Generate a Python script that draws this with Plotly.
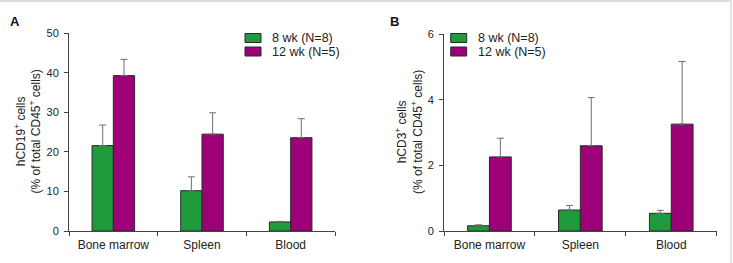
import plotly.graph_objects as go

categories = ["Bone marrow", "Spleen", "Blood"]
series_names = ["8 wk (N=8)", "12 wk (N=5)"]

a_8wk = [21.6, 10.2, 2.3]
a_8wk_err = [5.2, 3.5, 0.15]
a_12wk = [39.3, 24.5, 23.6]
a_12wk_err = [4.1, 5.4, 4.8]

b_8wk = [0.16, 0.64, 0.54]
b_8wk_err = [0.03, 0.14, 0.09]
b_12wk = [2.26, 2.6, 3.26]
b_12wk_err = [0.57, 1.47, 1.91]

a_ticks = [0, 10, 20, 30, 40, 50]
b_ticks = [0, 2, 4, 6]

GREEN = "#1f9a3c"
MAGENTA = "#9e0078"
FONT = "Liberation Sans, Arial, sans-serif"
W, H = 733, 263

def px(x):
    return x / W

def py(y):
    return 1 - y / H

fig = go.Figure()

def add_bars(xa, ya, vals, errs, color, name):
    fig.add_trace(go.Bar(
        x=categories, y=vals, name=name, xaxis=xa, yaxis=ya,
        marker=dict(color=color, line=dict(color="#2a2a2a", width=1)),
        error_y=dict(type="data", symmetric=False, array=errs,
                     arrayminus=[0] * len(errs), color="#6e6e6e",
                     thickness=1, width=3.5),
        showlegend=False,
    ))

add_bars("x", "y", a_8wk, a_8wk_err, GREEN, series_names[0])
add_bars("x", "y", a_12wk, a_12wk_err, MAGENTA, series_names[1])
add_bars("x2", "y2", b_8wk, b_8wk_err, GREEN, series_names[0])
add_bars("x2", "y2", b_12wk, b_12wk_err, MAGENTA, series_names[1])

axis_common = dict(showline=True, linecolor="#444", linewidth=1,
                   ticks="outside", ticklen=4, tickcolor="#444",
                   showgrid=False, zeroline=False, automargin=False)

fig.update_layout(
    template="none",
    width=W, height=H,
    margin=dict(l=0, r=0, t=0, b=0, pad=0),
    paper_bgcolor="white", plot_bgcolor="white",
    font=dict(family=FONT, size=12, color="#222"),
    barmode="group", bargap=0.52, bargroupgap=0,
    xaxis=dict(domain=[px(69), px(335)], anchor="y", tickson="boundaries",
               tickfont=dict(size=12), ticklabelstandoff=3, **axis_common),
    yaxis=dict(domain=[py(231), py(33.3)], anchor="x", range=[0, 50],
               tickvals=a_ticks, tickfont=dict(size=11),
               ticklabelstandoff=3, **axis_common),
    xaxis2=dict(domain=[px(444), px(716.7)], anchor="y2", tickson="boundaries",
                tickfont=dict(size=12), ticklabelstandoff=3, **axis_common),
    yaxis2=dict(domain=[py(231), py(34.3)], anchor="x2", range=[0, 6],
                tickvals=b_ticks, tickfont=dict(size=11),
                ticklabelstandoff=3, **axis_common),
    showlegend=False,
)

annotations = [
    dict(text="<b>A</b>", x=px(8), y=py(21), xanchor="left", yanchor="middle",
         font=dict(size=13, color="#111")),
    dict(text="<b>B</b>", x=px(388), y=py(21), xanchor="left", yanchor="middle",
         font=dict(size=13, color="#111")),
    dict(text="hCD19<sup>+</sup> cells<br>(% of total CD45<sup>+</sup> cells)",
         x=px(27.5), y=py(132), textangle=-90, xanchor="center", yanchor="middle",
         font=dict(size=12, color="#222")),
    dict(text="hCD3<sup>+</sup> cells<br>(% of total CD45<sup>+</sup> cells)",
         x=px(409), y=py(132), textangle=-90, xanchor="center", yanchor="middle",
         font=dict(size=12, color="#222")),
]

shapes = []
legend_pos = [(245, 270), (450.7, 476)]
rows = [(33.5, 42.5), (47, 56)]
colors = [GREEN, MAGENTA]
for bx, tx in legend_pos:
    for (y0, y1), c, name in zip(rows, colors, series_names):
        shapes.append(dict(type="rect", xref="paper", yref="paper",
                           x0=px(bx), x1=px(bx + 16), y0=py(y1), y1=py(y0),
                           fillcolor=c, line=dict(color="#2a2a2a", width=1)))
        annotations.append(dict(text=name, x=px(tx), y=py((y0 + y1) / 2),
                                xanchor="left", yanchor="middle",
                                font=dict(size=12.5, color="#222")))

for a in annotations:
    a.update(xref="paper", yref="paper", showarrow=False)

# light frame lines at top and right edge
shapes.append(dict(type="line", xref="paper", yref="paper", x0=0, x1=px(731),
                   y0=py(1), y1=py(1), line=dict(color="#dcdcdc", width=2)))
shapes.append(dict(type="line", xref="paper", yref="paper", x0=px(731), x1=px(731),
                   y0=0, y1=1, line=dict(color="#e4e4e4", width=2)))

fig.update_layout(annotations=annotations, shapes=shapes)

fig.write_html("out.html")
